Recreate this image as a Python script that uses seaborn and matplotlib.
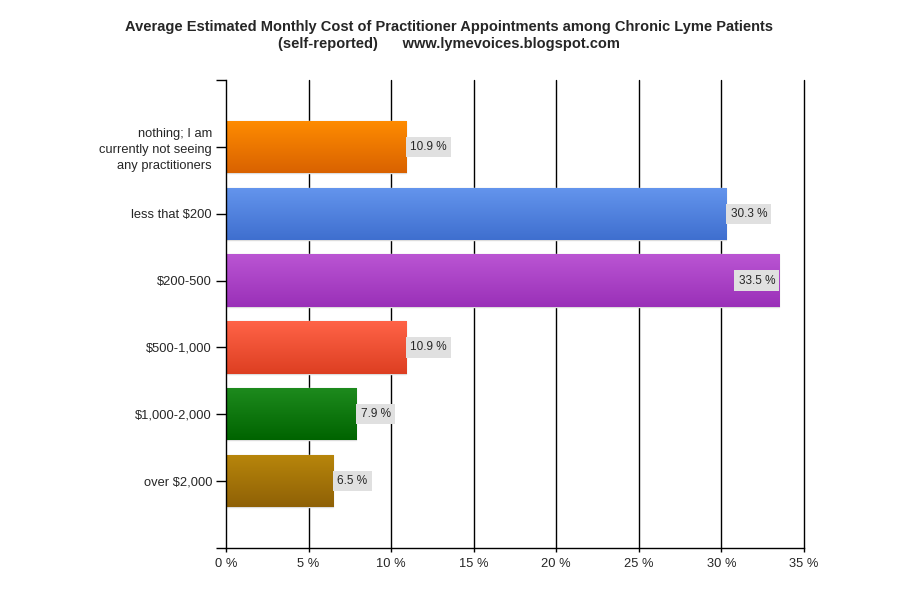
import matplotlib
matplotlib.use("Agg")
import matplotlib.pyplot as plt
import matplotlib.colors as mcolors
import numpy as np
import pandas as pd
import seaborn as sns

categories = ["nothing; I am\ncurrently not seeing\nany practitioners",
              "less that $200", "$200-500", "$500-1,000",
              "$1,000-2,000", "over $2,000"]
values = [10.9, 30.3, 33.5, 10.9, 7.9, 6.5]
top_colors = ["#FF8C00", "#6495ED", "#BA55D3", "#FF6347", "#1E8B1E", "#B8860B"]
bottom_colors = ["#D96200", "#3F6FCF", "#9A30B8", "#DD3F22", "#006400", "#8F6106"]
xticks = [0, 5, 10, 15, 20, 25, 30, 35]

sns.set_theme(style="white")
plt.rcParams['font.family'] = ['Liberation Sans', 'DejaVu Sans']

df = pd.DataFrame({"category": categories, "value": values})

fig = plt.figure(figsize=(9, 6), dpi=100)
ax = fig.add_axes([226/900, 1-548/600, (804-226)/900, (548-80)/600])

sns.barplot(data=df, y="category", x="value", hue="category", palette=top_colors,
            orient="h", width=0.78, legend=False, ax=ax, edgecolor="#dddddd", linewidth=1)

for i, patch in enumerate(ax.patches):
    x0, y0 = patch.get_x(), patch.get_y()
    w, h = patch.get_width(), patch.get_height()
    cmap = mcolors.LinearSegmentedColormap.from_list("g", [top_colors[i], bottom_colors[i]])
    grad = np.linspace(0, 1, 100).reshape(-1, 1)
    im = ax.imshow(grad, cmap=cmap, aspect="auto",
                   extent=[x0, x0 + w, y0 + h, y0], origin="upper", zorder=patch.get_zorder()+0.1)
    im.set_clip_path(patch)
    val = values[i]
    box = dict(boxstyle="square,pad=0.35", facecolor="#e0e0e0", edgecolor="none")
    if val > 33:
        ax.text(x0 + w - 0.25, y0 + h/2, f"{val} %", ha="right", va="center", fontsize=8.5,
                bbox=box, zorder=5)
    else:
        ax.text(x0 + w + 0.25, y0 + h/2, f"{val} %", ha="left", va="center", fontsize=8.5,
                bbox=box, zorder=5)

ax.set_xlim(0, 35)
ax.set_ylim(len(categories), -1)
ax.set_xticks(xticks)
ax.set_xticklabels([f"{t} %" for t in xticks])
ax.set_yticks([-1, len(categories)], minor=True)
for t in xticks[1:]:
    ax.axvline(t, color="black", linewidth=1, zorder=0.5, clip_on=False)

ax.set_xlabel("")
ax.set_ylabel("")
for s in ["top", "right"]:
    ax.spines[s].set_visible(False)
ax.spines["left"].set_color("black")
ax.spines["bottom"].set_color("black")
ax.spines["left"].set_linewidth(1)
ax.spines["bottom"].set_linewidth(1)
ax.tick_params(axis="y", which="both", left=True, length=7, width=1, color="black", labelsize=9.3, pad=3)
ax.tick_params(axis="x", bottom=True, length=3, width=1, color="black", labelsize=9.3, pad=4)
for lbl in ax.get_yticklabels():
    lbl.set_multialignment("right")
    lbl.set_linespacing(1.45)

fig.text(0.499, 0.955, "Average Estimated Monthly Cost of Practitioner Appointments among Chronic Lyme Patients",
         ha="center", va="center", fontsize=10.5, fontweight="bold")
fig.text(0.499, 0.927, "(self-reported)      www.lymevoices.blogspot.com",
         ha="center", va="center", fontsize=10.5, fontweight="bold")

fig.savefig("out.png", dpi=100, facecolor="white")
